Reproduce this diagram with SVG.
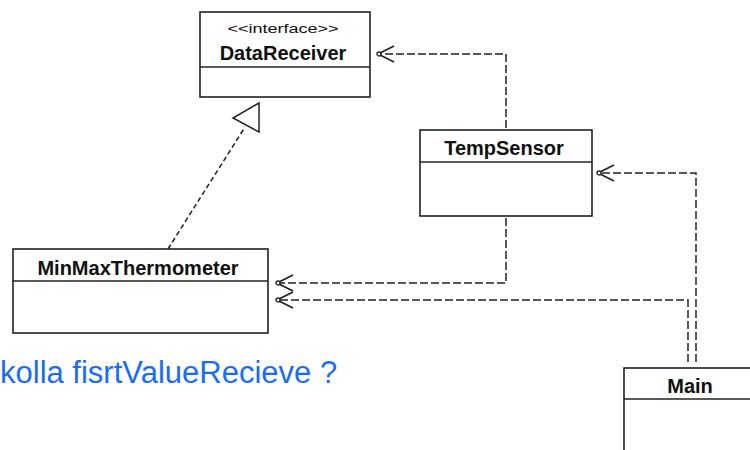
<svg xmlns="http://www.w3.org/2000/svg" width="750" height="450" viewBox="0 0 750 450">
  <style>
    .box { fill: #fff; stroke: #222; stroke-width: 1.6; }
    .div { stroke: #222; stroke-width: 1.6; }
    .name { font-family: "Liberation Sans", Arial, sans-serif; font-weight: bold; font-size: 20px; fill: #111; text-anchor: middle; }
    .stereo { font-family: "Liberation Sans", Arial, sans-serif; font-size: 13px; fill: #111; text-anchor: middle; }
    .dep { fill: none; stroke: #222; stroke-width: 1.5; stroke-dasharray: 8 3; }
    .real { fill: none; stroke: #222; stroke-width: 1.5; stroke-dasharray: 5 3; }
    .note { font-family: "Liberation Sans", Arial, sans-serif; font-size: 31px; fill: #1a6cf5; }
  </style>
  <defs>
    <marker id="open" markerUnits="userSpaceOnUse" markerWidth="22" markerHeight="22" viewBox="-19 -11 22 22" refX="0" refY="0" orient="auto">
      <path d="M-16,-8 L0,0 L-16,8" fill="none" stroke="#222" stroke-width="1.7"/>
      <circle cx="-1" cy="0" r="2" fill="#fff" stroke="#222" stroke-width="1.3"/>
    </marker>
  </defs>

  <g id="DataReceiver">
    <rect class="box" x="200" y="12" width="170" height="85"/>
    <line class="div" x1="200" y1="67" x2="370" y2="67"/>
    <text class="stereo" x="283" y="33" textLength="111" lengthAdjust="spacingAndGlyphs">&lt;&lt;interface&gt;&gt;</text>
    <text class="name" x="283" y="60">DataReceiver</text>
  </g>

  <g id="TempSensor">
    <rect class="box" x="420" y="130" width="172" height="86"/>
    <line class="div" x1="420" y1="162" x2="592" y2="162"/>
    <text class="name" x="504" y="155">TempSensor</text>
  </g>

  <g id="MinMaxThermometer">
    <rect class="box" x="13" y="249" width="255" height="84"/>
    <line class="div" x1="13" y1="281" x2="268" y2="281"/>
    <text class="name" x="138" y="275">MinMaxThermometer</text>
  </g>

  <g id="Main">
    <rect class="box" x="624" y="368" width="200" height="100"/>
    <line class="div" x1="624" y1="399" x2="760" y2="399"/>
    <text class="name" x="690" y="393">Main</text>
  </g>

  <g id="connectors">
    <path class="dep" d="M506,128 V54 H378" marker-end="url(#open)"/>
    <path class="dep" d="M696,362 V173 H598" marker-end="url(#open)"/>
    <path class="dep" d="M506,218 V283 H277" marker-end="url(#open)"/>
    <path class="dep" d="M688,362 V300 H277" marker-end="url(#open)"/>
    <path class="real" d="M168,249 L245,127"/>
    <polygon points="259,103 233,118 259,132" fill="#fff" stroke="#222" stroke-width="1.5"/>
  </g>

  <text class="note" x="0" y="383">kolla fisrtValueRecieve ?</text>
</svg>
